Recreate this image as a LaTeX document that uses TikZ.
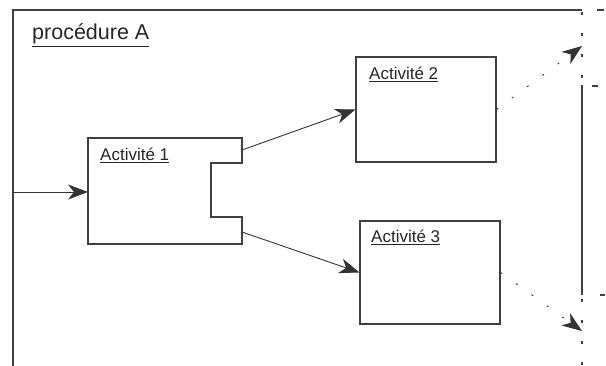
\documentclass[tikz,border=0pt]{standalone}
\usepackage{fontspec}
\setmainfont{Liberation Sans}
\usetikzlibrary{calc}
\usetikzlibrary{arrows.meta}

\tikzset{
  frame/.style={black!75,line width=1.1pt},
  actbox/.style={draw=black!75,line width=1.1pt,rectangle,inner sep=0pt},
  flow/.style={black!80,line width=0.9pt,-{Stealth[length=20pt,width=15pt,inset=6pt]}},
  weakflow/.style={flow,dash pattern=on 2pt off 17pt},
  loose/.style={frame,dash pattern=on 3pt off 18pt},
  title/.style={anchor=base west,inner sep=0pt,text=black!85,font=\fontsize{21.5}{24}\selectfont},
  acttitle/.style={anchor=base west,inner sep=0pt,text=black!85,font=\fontsize{17}{20}\selectfont}
}

\begin{document}
\begin{tikzpicture}[x=1pt,y=-1pt]
\useasboundingbox (0,0) rectangle (606,366);
\coordinate(tl) at (13,10);
\coordinate(bl) at (13,366);
\coordinate(tr) at (582,10);
\coordinate(rs) at (582,85);
\coordinate(re) at (582,295);
\coordinate(br) at (582,366);
% outer frame of the procedure
\draw[frame] (bl)--(tl)--(tr);
\draw[frame] (rs)--(re);
\draw[loose,dash phase=-2pt] (tr)--(rs);
\draw[loose,dash phase=-4pt] (re)--(br);
\draw[frame] (597,10)--(604,10);
\draw[frame] (592,86)--(598,86);
\draw[frame] (600,295)--(605,295);
\node[title] (proc) at (32,40) {\underline{procédure A}};
% activity 1 with its notch
\draw[frame] (88,138)--(242,138)--(242,163)--(211,163)--(211,217)--(242,217)--(242,244)--(88,244)--cycle;
\coordinate(act1in) at (88,192);
\coordinate(act1up) at (242,150);
\coordinate(act1dn) at (242,232);
\node[acttitle] (act1) at (100,161) {\underline{Activité 1}};
% activities 2 and 3
\node[actbox,minimum width=140pt,minimum height=105pt] (act2) at (426,109.5) {};
\node[actbox,minimum width=140pt,minimum height=103pt] (act3) at (430,272.5) {};
\node[acttitle] (act2t) at (369,80) {\underline{Activité 2}};
\node[acttitle] (act3t) at (371,243) {\underline{Activité 3}};
% arrows
\coordinate(in) at (13,192);
\coordinate(out2) at (582,46);
\coordinate(out3) at (582,331);
\draw[flow] (in)--(act1in);
\draw[flow] (act1up)--(act2.west);
\draw[flow] (act1dn)--(act3.west);
\draw[weakflow] (act2.east)--(out2);
\draw[weakflow] (act3.east)--(out3);
\end{tikzpicture}
\end{document}
